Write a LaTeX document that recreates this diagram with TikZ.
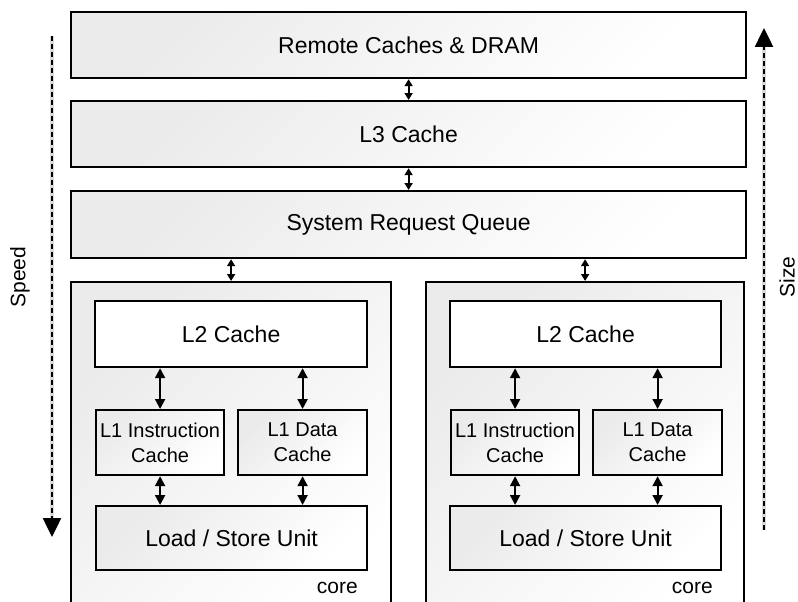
\documentclass[tikz,border=0pt]{standalone}
\usepackage{fontspec}
\setmainfont{Liberation Sans}
\usetikzlibrary{arrows.meta,calc}
\newcommand{\bigtext}{\fontsize{23}{27}\selectfont}
\newcommand{\midtext}{\fontsize{21}{25}\selectfont}
\newcommand{\smalltext}{\fontsize{20}{25}\selectfont}
\begin{document}
\begin{tikzpicture}[x=1pt,y=-1pt,
  box/.style={draw=black, line width=2.2pt, top color=gray!16, bottom color=white,
    shading angle=45, anchor=north west, inner sep=0pt, align=center, font=\bigtext},
  plainbox/.style={box, top color=white, bottom color=white},
  smallbox/.style={box, font=\smalltext},
  link/.style={line width=2pt, {Triangle[width=8pt,length=7pt]}-{Triangle[width=8pt,length=7pt]}},
  corelink/.style={line width=2pt, {Triangle[width=10pt,length=10pt]}-{Triangle[width=10pt,length=10pt]}},
  trend/.style={line width=2.5pt, dash pattern=on 5pt off 3pt, -{Triangle[width=18pt,length=19pt]}},
  trendbase/.style={line width=3.2pt, gray!30},
  sidelabel/.style={font=\midtext, rotate=90, inner sep=0pt}
]
\useasboundingbox (0,0) rectangle (798,602);

% shared levels
\node[box, minimum width=675pt, minimum height=66pt] (mem) at (70,11) {Remote Caches \& DRAM};
\node[box, minimum width=675pt, minimum height=66pt] (l3) at (70,100) {L3 Cache};
\node[box, minimum width=675pt, minimum height=67pt] (srq) at (70,190) {System Request Queue};

% the two cores (open at the bottom)
\node[box, minimum width=320pt, minimum height=340pt] (core1) at (70,281) {};
\node[box, minimum width=318pt, minimum height=340pt] (core2) at (425,281) {};

% core 1
\node[plainbox, minimum width=272pt, minimum height=66pt] (l2a) at (94,300) {L2 Cache};
\node[smallbox, minimum width=128pt, minimum height=65pt] (l1ia) at (95,409) {L1 Instruction\\Cache};
\node[smallbox, minimum width=129pt, minimum height=65pt] (l1da) at (237,409) {L1 Data\\Cache};
\node[box, minimum width=271pt, minimum height=64pt] (lsua) at (95,505) {Load / Store Unit};
\node[font=\midtext, anchor=east, inner sep=0pt] (corea) at (358,588) {core};

% core 2
\node[plainbox, minimum width=271pt, minimum height=66pt] (l2b) at (449,300) {L2 Cache};
\node[smallbox, minimum width=128pt, minimum height=65pt] (l1ib) at (450,409) {L1 Instruction\\Cache};
\node[smallbox, minimum width=129pt, minimum height=65pt] (l1db) at (592,409) {L1 Data\\Cache};
\node[box, minimum width=271pt, minimum height=64pt] (lsub) at (449,505) {Load / Store Unit};
\node[font=\midtext, anchor=east, inner sep=0pt] (coreb) at (713,588) {core};

% links between levels
\draw[link] (mem.south) -- (l3.north);
\draw[link] (l3.south) -- (srq.north);
\draw[link] (srq.south -| core1.north) -- (core1.north);
\draw[link] (srq.south -| core2.north) -- (core2.north);

\draw[corelink] (l2a.south -| l1ia.north) -- (l1ia.north);
\draw[corelink] (l2a.south -| l1da.north) -- (l1da.north);
\draw[corelink] (l1ia.south) -- (lsua.north -| l1ia.south);
\draw[corelink] (l1da.south) -- (lsua.north -| l1da.south);

\draw[corelink] (l2b.south -| l1ib.north) -- (l1ib.north);
\draw[corelink] (l2b.south -| l1db.north) -- (l1db.north);
\draw[corelink] (l1ib.south) -- (lsub.north -| l1ib.south);
\draw[corelink] (l1db.south) -- (lsub.north -| l1db.south);

% speed and size trends
\coordinate (speedtop) at (52,36);
\coordinate (speedend) at (52,537);
\draw[trendbase] (speedtop) -- ($(speedend)+(0,-18)$);
\draw[trend] (speedtop) -- (speedend);
\node[sidelabel] (speed) at (20,277) {Speed};

\coordinate (sizebottom) at (764,530);
\coordinate (sizeend) at (764,28);
\draw[trendbase] (sizebottom) -- ($(sizeend)+(0,18)$);
\draw[trend] (sizebottom) -- (sizeend);
\node[sidelabel] (size) at (787,277) {Size};
\end{tikzpicture}
\end{document}
